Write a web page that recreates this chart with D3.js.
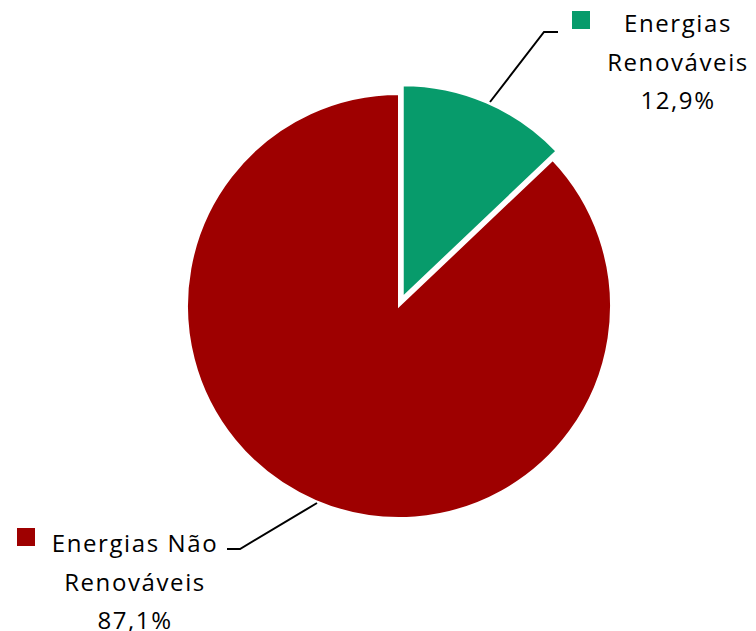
<!DOCTYPE html>
<html><head><meta charset="utf-8">
<script src="https://cdn.jsdelivr.net/npm/d3@7"></script>
<style>body{margin:0;background:#fff}svg{display:block}</style>
</head><body>
<svg id="c" width="756" height="631"></svg>
<script>
const categories = ["Energias Renováveis", "Energias Não Renováveis"];
const values = [12.9, 87.1];
const labelLines = [["Energias", "Renováveis", "12,9%"], ["Energias Não", "Renováveis", "87,1%"]];
const colors = ["#079B6B", "#9E0000"];

const svg = d3.select("#c");
const cx = 399, cy = 306, r = 212;
const pie = d3.pie().sort(null).value(d => d)(values);
const arc = d3.arc().innerRadius(0).outerRadius(r);
const g = svg.append("g").attr("transform", `translate(${cx},${cy})`);
const explode = [9.5, 0];
g.selectAll("path").data(pie).enter().append("path")
  .attr("d", arc)
  .attr("fill", (d, i) => colors[i])
  .attr("stroke", "#fff").attr("stroke-width", 2)
  .attr("transform", (d, i) => {
    const a = (d.startAngle + d.endAngle) / 2;
    return `translate(${Math.sin(a) * explode[i]},${-Math.cos(a) * explode[i]})`;
  });

// leader lines
const leaders = [[[490, 102], [544, 32], [558, 32]], [[317, 503], [240, 549], [227, 549]]];
svg.selectAll("polyline.l").data(leaders).enter().append("polyline")
  .attr("points", d => d.map(p => p.join(",")).join(" "))
  .attr("fill", "none").attr("stroke", "#000").attr("stroke-width", 2);

// labels
const labelPos = [{sx: 572, sy: 11, tx: 678, ty: 32}, {sx: 17, sy: 528, tx: 135, ty: 552}];
labelPos.forEach((p, i) => {
  svg.append("rect").attr("x", p.sx).attr("y", p.sy).attr("width", 18).attr("height", 18).attr("fill", colors[i]);
  const t = svg.append("text").attr("text-anchor", "middle")
    .attr("font-family", "'Open Sans', sans-serif").attr("font-size", 24)
    .attr("letter-spacing", 1.6).attr("fill", "#000");
  labelLines[i].forEach((s, j) => {
    t.append("tspan").attr("x", p.tx).attr("y", p.ty + j * 38.5).text(s);
  });
});
</script>
</body></html>
